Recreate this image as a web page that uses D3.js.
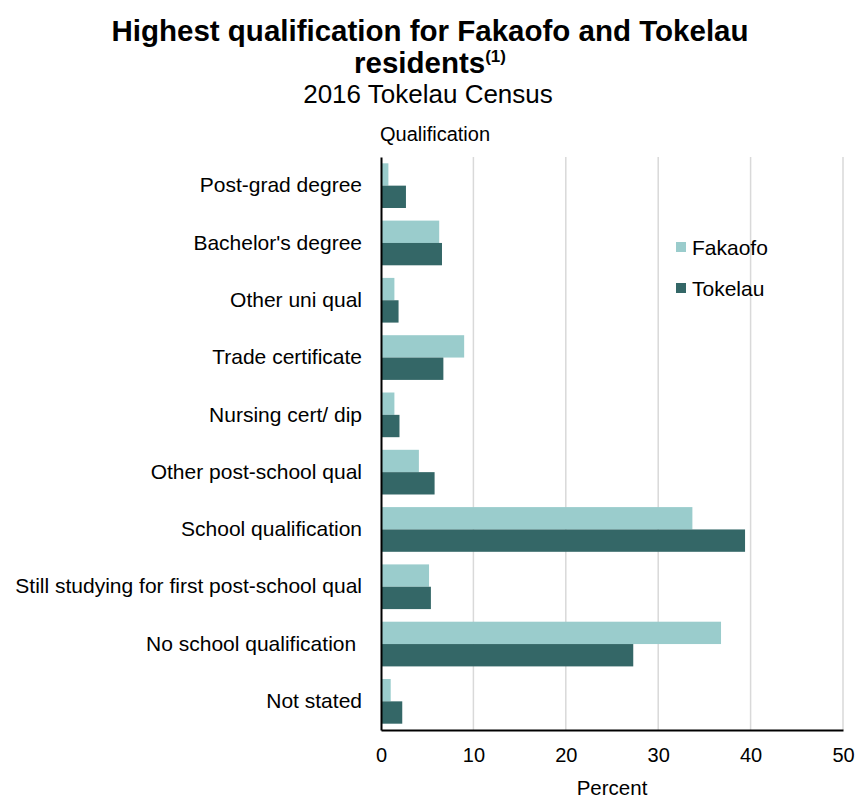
<!DOCTYPE html>
<html>
<head>
<meta charset="utf-8">
<script src="https://cdn.jsdelivr.net/npm/d3@7"></script>
<style>
  body { margin: 0; background: #fff; }
  svg { font-family: "Liberation Sans", Arial, sans-serif; }
</style>
</head>
<body>
<svg id="chart" width="857" height="799"></svg>
<script>
var categories = [
  "Post-grad degree",
  "Bachelor's degree",
  "Other uni qual",
  "Trade certificate",
  "Nursing cert/ dip",
  "Other post-school qual",
  "School qualification",
  "Still studying for first post-school qual",
  "No school qualification ",
  "Not stated"
];
var seriesNames = ["Fakaofo", "Tokelau"];
var fakaofo = [0.8, 6.3, 1.45, 9.0, 1.45, 4.1, 33.7, 5.2, 36.8, 1.05];
var tokelau = [2.7, 6.6, 1.9, 6.75, 2.0, 5.8, 39.4, 5.4, 27.3, 2.3];
var xTicks = [0, 10, 20, 30, 40, 50];
var colors = ["#9acccc", "#346767"];

var svg = d3.select("#chart");
var margin = {left: 381, right: 14, top: 157, bottom: 69};
var width = 857, height = 799;
var font = "Liberation Sans, Arial, sans-serif";

var x = d3.scaleLinear().domain([0, 50]).range([margin.left, width - margin.right]);
var y = d3.scaleBand().domain(categories)
  .range([margin.top, height - margin.bottom])
  .paddingInner(0.22).paddingOuter(0.11);
var ySub = d3.scaleBand().domain(seriesNames).range([0, y.bandwidth()]);

// gridlines
svg.append("g")
  .selectAll("line")
  .data(xTicks.slice(1))
  .join("line")
    .attr("x1", d => x(d)).attr("x2", d => x(d))
    .attr("y1", margin.top).attr("y2", height - margin.bottom)
    .attr("stroke", "#d9d9d9").attr("stroke-width", 1.5);

var rows = categories.map((c, i) => ({cat: c, values: [fakaofo[i], tokelau[i]]}));

var group = svg.append("g").selectAll("g")
  .data(rows)
  .join("g")
    .attr("transform", d => `translate(0,${y(d.cat)})`);

group.selectAll("rect")
  .data(d => d.values.map((v, i) => ({series: seriesNames[i], value: v, i: i})))
  .join("rect")
    .attr("x", x(0))
    .attr("y", d => ySub(d.series))
    .attr("width", d => x(d.value) - x(0))
    .attr("height", ySub.bandwidth())
    .attr("fill", d => colors[d.i]);

// x axis
var xAxis = svg.append("g")
  .attr("transform", `translate(0,${height - margin.bottom})`)
  .call(d3.axisBottom(x).tickValues(xTicks).tickSize(0).tickPadding(18));
xAxis.select(".domain").attr("stroke", "#000").attr("stroke-width", 2);
xAxis.selectAll("text").attr("font-size", 20).attr("fill", "#000")
  .attr("font-family", font);

// y axis
var yAxis = svg.append("g")
  .attr("transform", `translate(${margin.left},0)`)
  .call(d3.axisLeft(y).tickSize(0).tickPadding(19));
yAxis.select(".domain").attr("stroke", "#000").attr("stroke-width", 2);
yAxis.selectAll("text").attr("font-size", 21).attr("fill", "#000")
  .attr("font-family", font).style("white-space", "pre");

// titles
svg.append("text").attr("x", 430).attr("y", 41).attr("text-anchor", "middle")
  .attr("font-size", 29.5).attr("font-weight", "bold")
  .text("Highest qualification for Fakaofo and Tokelau");
var t2 = svg.append("text").attr("x", 430).attr("y", 73).attr("text-anchor", "middle")
  .attr("font-size", 29.5).attr("font-weight", "bold");
t2.append("tspan").text("residents");
t2.append("tspan").attr("font-size", 17).attr("dy", -11).text("(1)");
svg.append("text").attr("x", 428).attr("y", 103).attr("text-anchor", "middle")
  .attr("font-size", 26).text("2016 Tokelau Census");
svg.append("text").attr("x", 435).attr("y", 141).attr("text-anchor", "middle")
  .attr("font-size", 20).text("Qualification");
svg.append("text").attr("x", 612).attr("y", 795).attr("text-anchor", "middle")
  .attr("font-size", 20.5).text("Percent");

// legend
var legend = svg.append("g").selectAll("g")
  .data(seriesNames)
  .join("g")
    .attr("transform", (d, i) => `translate(676,${247 + i * 41})`);
legend.append("rect").attr("x", 0).attr("y", -5).attr("width", 10).attr("height", 10)
  .attr("fill", (d, i) => colors[i]);
legend.append("text").attr("x", 16).attr("y", 7.5).attr("font-size", 21).text(d => d);
</script>
</body>
</html>
